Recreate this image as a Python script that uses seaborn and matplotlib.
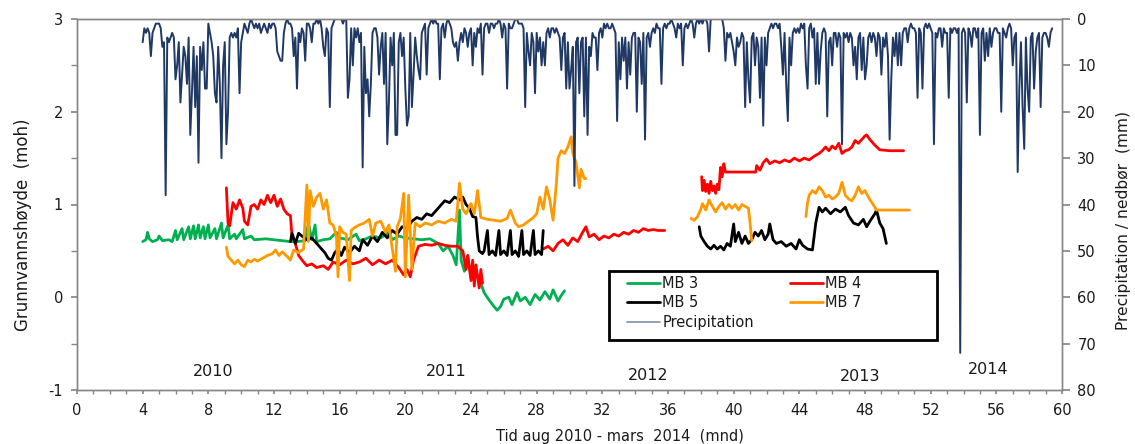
import numpy as np
import pandas as pd
import matplotlib
matplotlib.use("Agg")
import matplotlib.pyplot as plt
from matplotlib.lines import Line2D
from matplotlib.patches import Rectangle
from matplotlib.ticker import MultipleLocator
import seaborn as sns

# ---------------- data (months since aug 2010) ----------------
mb3_month = [4.0, 4.2, 4.3, 4.4, 4.6, 4.9, 5.0, 5.2, 5.6, 5.8, 6.0, 6.1, 6.4, 6.5, 6.8, 6.9,
             7.1, 7.2, 7.4, 7.5, 7.7, 7.8, 8.0, 8.1, 8.4, 8.5, 8.8, 8.9, 9.2, 9.3, 9.6, 9.7,
             10.1, 10.2, 10.6, 10.8, 11.5, 12.0, 12.5, 13.0, 13.4, 13.9, 14.1, 14.3, 14.5,
             14.6, 15.0, 15.4, 15.8, 16.0, 16.5, 17.0, 17.2, 17.6, 18.0, 18.5, 19.0, 19.2,
             19.6, 20.0, 20.5, 21.0, 21.5, 22.0, 22.3, 22.6, 22.9, 23.1, 23.3, 23.4, 23.6,
             23.8, 24.0, 24.2, 24.5, 24.8, 25.1, 25.4, 25.6, 25.8, 26.0, 26.3, 26.5, 26.8,
             27.0, 27.3, 27.6, 27.9, 28.2, 28.5, 28.8, 29.0, 29.3, 29.5, 29.7]
mb3_level = [0.60, 0.62, 0.70, 0.63, 0.60, 0.62, 0.66, 0.61, 0.62, 0.60, 0.72, 0.62, 0.74, 0.62,
             0.76, 0.63, 0.77, 0.63, 0.78, 0.64, 0.76, 0.63, 0.78, 0.64, 0.74, 0.63, 0.80, 0.64,
             0.78, 0.63, 0.68, 0.63, 0.73, 0.63, 0.66, 0.62, 0.63, 0.62, 0.61, 0.60, 0.60, 0.61,
             0.80, 0.62, 0.78, 0.60, 0.62, 0.63, 0.70, 0.64, 0.62, 0.68, 0.61, 0.63, 0.66, 0.64,
             0.70, 0.62, 0.66, 0.64, 0.63, 0.62, 0.63, 0.58, 0.50, 0.55, 0.45, 0.35, 0.94, 0.40,
             0.28, 0.45, 0.22, 0.30, 0.20, 0.05, -0.03, -0.10, -0.14, -0.10, -0.02, 0.00, -0.08,
             0.05, -0.04, 0.00, -0.08, 0.03, -0.03, 0.06, -0.02, 0.08, -0.04, 0.02, 0.07]

mb4_month = [9.1, 9.2, 9.3, 9.5, 9.7, 9.9, 10.1, 10.2, 10.4, 10.6, 10.8, 11.0, 11.2, 11.4, 11.6,
             11.8, 12.0, 12.2, 12.4, 12.6, 12.8, 13.0, 13.1, 13.3, 13.5, 13.8, 14.0, 14.3, 14.6,
             15.0, 15.3, 15.6, 16.0, 16.4, 16.8, 17.2, 17.6, 18.0, 18.4, 18.8, 19.2, 19.6, 19.9,
             20.1, 20.3, 20.5, 20.8, 21.2, 21.6, 22.0, 22.4, 22.8, 23.2, 23.5, 23.7, 23.8, 24.0,
             24.1, 24.2, 24.3, 24.5, 24.6, 24.7,
             28.4, 28.7, 29.0, 29.3, 29.6, 29.9, 30.2, 30.5, 30.8, 31.0, 31.2, 31.5, 31.8, 32.1,
             32.4, 32.7, 33.0, 33.3, 33.6, 33.9, 34.2, 34.5, 34.8, 35.1, 35.4, 35.8,
             38.05, 38.1, 38.2, 38.3, 38.4, 38.5, 38.6, 38.7, 38.8, 38.9, 39.0, 39.1, 39.2, 39.3,
             39.4, 39.5, 40.0, 40.5, 41.0, 41.35, 41.4, 41.6, 41.8, 42.0, 42.2, 42.5, 42.8, 43.1,
             43.4, 43.7, 44.0, 44.3, 44.6, 44.9, 45.2, 45.4, 45.6, 45.8, 46.0, 46.2, 46.4, 46.6,
             46.8, 47.0, 47.2, 47.4, 47.6, 47.8, 48.0, 48.1, 48.3, 48.6, 48.9, 49.5, 50.0, 50.35]
mb4_level = [1.18, 0.80, 0.77, 1.02, 0.95, 1.05, 0.96, 0.82, 0.78, 0.98, 1.00, 0.95, 1.05, 1.00,
             1.10, 1.02, 1.10, 0.98, 1.06, 0.95, 0.90, 0.88, 0.65, 0.58, 0.45, 0.38, 0.34, 0.36,
             0.32, 0.34, 0.30, 0.38, 0.35, 0.40, 0.36, 0.38, 0.42, 0.35, 0.40, 0.36, 0.40, 0.32,
             0.24, 0.30, 0.22, 0.40, 0.55, 0.57, 0.56, 0.58, 0.56, 0.55, 0.55, 0.50, 0.30, 0.45,
             0.18, 0.40, 0.12, 0.35, 0.10, 0.30, 0.15,
             0.52, 0.55, 0.50, 0.58, 0.62, 0.56, 0.64, 0.60, 0.70, 0.76, 0.65, 0.68, 0.62, 0.66,
             0.64, 0.68, 0.66, 0.70, 0.68, 0.72, 0.70, 0.74, 0.72, 0.73, 0.72, 0.72,
             1.30, 1.15, 1.26, 1.14, 1.22, 1.12, 1.25, 1.15, 1.20, 1.12, 1.22, 1.16, 1.40, 1.30,
             1.44, 1.35, 1.35, 1.35, 1.35, 1.35, 1.42, 1.37, 1.45, 1.49, 1.44, 1.47, 1.45, 1.48,
             1.46, 1.50, 1.47, 1.50, 1.48, 1.52, 1.55, 1.58, 1.62, 1.58, 1.63, 1.60, 1.66, 1.55,
             1.58, 1.59, 1.62, 1.69, 1.66, 1.70, 1.74, 1.75, 1.70, 1.64, 1.59, 1.58, 1.58, 1.58]

mb5_month = [13.0, 13.1, 13.3, 13.5, 13.7, 14.0, 14.3, 14.6, 14.9, 15.1, 15.3, 15.5, 15.7, 15.9,
             16.1, 16.3, 16.6, 16.9, 17.2, 17.4, 17.7, 18.0, 18.3, 18.6, 18.9, 19.2, 19.5, 19.8,
             20.1, 20.4, 20.7, 21.0, 21.3, 21.6, 21.9, 22.1, 22.4, 22.7, 23.0, 23.3, 23.5, 23.7,
             23.9, 24.1, 24.3, 24.4, 24.5, 24.7, 24.8, 25.0, 25.1, 25.3, 25.5, 25.7, 25.8, 26.0,
             26.2, 26.4, 26.5, 26.7, 26.9, 27.1, 27.2, 27.4, 27.6, 27.8, 27.9, 28.1, 28.3, 28.4,
             37.9, 38.0, 38.2, 38.4, 38.6, 38.8, 39.0, 39.2, 39.4, 39.6, 39.8, 40.0, 40.1, 40.3,
             40.5, 40.7, 40.9, 41.1, 41.3, 41.5, 41.7, 41.9, 42.1, 42.2, 42.4, 42.6, 42.9, 43.2,
             43.5, 43.8, 44.0, 44.2, 44.5, 44.8, 45.0, 45.2, 45.4, 45.6, 45.9, 46.2, 46.5, 46.8,
             47.0, 47.3, 47.6, 47.9, 48.1, 48.3, 48.6, 48.7, 48.9, 49.1, 49.3]
mb5_level = [0.60, 0.69, 0.58, 0.69, 0.66, 0.62, 0.64, 0.58, 0.52, 0.48, 0.42, 0.40, 0.48, 0.52,
             0.45, 0.54, 0.48, 0.55, 0.50, 0.62, 0.56, 0.66, 0.60, 0.70, 0.64, 0.72, 0.68, 0.76,
             0.74, 0.82, 0.86, 0.84, 0.90, 0.88, 0.94, 0.98, 1.04, 1.02, 1.08, 1.05, 1.08, 1.00,
             0.96, 0.87, 0.86, 0.65, 0.50, 0.47, 0.50, 0.72, 0.46, 0.50, 0.45, 0.72, 0.46, 0.50,
             0.45, 0.72, 0.46, 0.50, 0.44, 0.72, 0.46, 0.50, 0.45, 0.72, 0.46, 0.50, 0.46, 0.72,
             0.76, 0.66, 0.60, 0.55, 0.52, 0.56, 0.52, 0.55, 0.51, 0.58, 0.55, 0.79, 0.60, 0.70,
             0.58, 0.66, 0.58, 0.62, 0.70, 0.66, 0.72, 0.62, 0.68, 0.79, 0.62, 0.58, 0.60, 0.55,
             0.58, 0.52, 0.62, 0.56, 0.52, 0.51, 0.80, 0.97, 0.92, 0.96, 0.90, 0.95, 0.92, 0.97,
             0.88, 0.80, 0.78, 0.84, 0.76, 0.82, 0.90, 0.94, 0.80, 0.74, 0.58]

mb7_month = [9.1, 9.2, 9.4, 9.6, 9.8, 10.0, 10.2, 10.4, 10.6, 10.8, 11.0, 11.3, 11.6, 11.9, 12.1,
             12.3, 12.5, 12.8, 13.0, 13.2, 13.5, 13.8, 14.0, 14.1, 14.2, 14.4, 14.6, 14.8, 15.0,
             15.2, 15.4, 15.6, 15.8, 15.9, 16.0, 16.2, 16.4, 16.6, 16.7, 16.9, 17.2, 17.5, 17.8,
             18.0, 18.2, 18.5, 18.8, 19.0, 19.4, 19.5, 19.7, 19.9, 20.0, 20.2, 20.4, 20.6, 20.9,
             21.2, 21.6, 22.0, 22.4, 22.8, 23.1, 23.3, 23.5, 23.7, 24.0, 24.2, 24.4, 24.6, 25.0,
             25.4, 25.8, 26.2, 26.4, 26.7, 26.9, 27.2, 27.5, 27.8, 28.0, 28.2, 28.4, 28.6, 28.8,
             29.0, 29.2, 29.3, 29.5, 29.7, 29.9, 30.1, 30.2, 30.4, 30.6, 30.7, 30.9, 31.0,
             37.4, 37.6, 37.8, 38.0, 38.1, 38.3, 38.5, 38.7, 38.9, 39.1, 39.3, 39.5, 39.7, 39.9,
             40.1, 40.3, 40.5, 40.7, 40.9, 41.0, 41.1,
             44.4, 44.5, 44.6, 44.8, 45.0, 45.2, 45.4, 45.6, 45.8, 46.0, 46.2, 46.4, 46.6, 46.8,
             47.0, 47.2, 47.4, 47.6, 47.8, 48.0, 48.3, 48.5, 48.7, 49.2, 49.8, 50.3, 50.7]
mb7_level = [0.54, 0.44, 0.40, 0.36, 0.40, 0.35, 0.33, 0.40, 0.38, 0.41, 0.39, 0.42, 0.45, 0.47,
             0.51, 0.45, 0.49, 0.44, 0.40, 0.51, 0.48, 0.52, 1.21, 0.60, 1.15, 0.98, 1.08, 1.12,
             0.95, 1.05, 0.80, 0.78, 0.66, 0.22, 0.76, 0.70, 0.68, 0.18, 0.72, 0.75, 0.78, 0.80,
             0.84, 0.66, 0.80, 0.82, 0.70, 0.78, 0.28, 0.76, 0.85, 1.12, 0.22, 1.10, 0.30, 0.80,
             0.76, 0.80, 0.78, 0.82, 0.80, 0.84, 0.82, 1.23, 0.95, 0.90, 1.01, 0.90, 1.15, 0.86,
             0.84, 0.83, 0.82, 0.85, 0.94, 0.80, 0.76, 0.78, 0.82, 0.86, 0.90, 1.08, 0.95, 1.19,
             1.05, 0.83, 1.23, 1.50, 1.58, 1.55, 1.62, 1.73, 1.55, 1.45, 1.18, 1.38, 1.28, 1.28,
             0.85, 0.83, 0.87, 0.95, 1.01, 0.94, 1.05, 0.98, 0.92, 0.98, 1.02, 0.95, 1.00, 0.96,
             1.00, 0.94, 1.00, 0.98, 0.96, 0.80, 0.61,
             0.87, 1.02, 1.10, 1.15, 1.12, 1.19, 1.15, 1.08, 1.10, 1.06, 1.08, 1.12, 1.24, 1.10,
             1.06, 1.04, 1.10, 1.19, 1.12, 1.15, 1.05, 1.00, 0.94, 0.94, 0.94, 0.94, 0.94]

# precipitation (mm), one value every 0.1 month starting at month 4.0
precip_start = 4.0
precip_step = 0.1
precip_mm = [
    5, 2, 3, 2, 3, 8, 3, 2, 1, 1,         # 4
    1, 2, 6, 5, 38, 4, 5, 4, 3, 4,        # 5
    13, 10, 5, 18, 12, 6, 8, 14, 4, 25,   # 6
    16, 6, 19, 8, 31, 6, 11, 5, 15, 15,   # 7
    1, 3, 5, 8, 16, 18, 6, 14, 30, 10,    # 8
    5, 27, 20, 4, 3, 4, 3, 4, 2, 16,      # 9
    5, 3, 1, 2, 3, 1, 0, 1, 2, 1,         # 10
    2, 1, 3, 2, 1, 2, 3, 1, 2, 1,         # 11
    1, 2, 7, 8, 9, 9, 3, 1, 0, 1,         # 12
    1, 2, 8, 4, 15, 3, 5, 2, 3, 9,        # 13
    1, 1, 2, 5, 1, 1, 0, 1, 0, 2,         # 14
    6, 8, 2, 3, 19, 2, 1, 0, 0, 0,        # 15
    0, 0, 1, 0, 0, 17, 13, 2, 10, 2,      # 16
    4, 2, 5, 3, 32, 6, 16, 13, 21, 14,    # 17
    3, 2, 2, 4, 12, 6, 3, 14, 3, 27,      # 18
    18, 4, 10, 3, 25, 25, 5, 3, 8, 4,     # 19
    15, 23, 21, 3, 19, 12, 4, 8, 11, 13,  # 20
    3, 2, 1, 12, 2, 1, 0, 1, 0, 1,        # 21
    1, 13, 2, 1, 4, 1, 0, 1, 2, 5,        # 22
    6, 5, 9, 5, 3, 5, 2, 3, 6, 3,         # 23
    2, 10, 3, 6, 2, 3, 1, 12, 2, 1,       # 24
    1, 3, 1, 1, 2, 1, 1, 0, 1, 4,         # 25
    1, 2, 15, 1, 2, 2, 1, 0, 0, 1,        # 26
    1, 1, 2, 19, 3, 7, 10, 3, 5, 16,      # 27
    3, 7, 4, 10, 5, 10, 3, 2, 4, 2,       # 28
    2, 3, 2, 3, 4, 11, 4, 3, 15, 5,       # 29
    15, 11, 6, 36, 5, 4, 16, 5, 4, 21,    # 30
    4, 25, 6, 8, 3, 4, 4, 11, 3, 2,       # 31
    4, 1, 2, 1, 2, 2, 1, 2, 3, 22,        # 32
    5, 13, 4, 9, 4, 15, 5, 12, 4, 3,      # 33
    3, 20, 4, 5, 14, 3, 26, 4, 3, 6,      # 34
    3, 2, 3, 1, 2, 2, 14, 2, 1, 2,        # 35
    1, 1, 0, 1, 2, 4, 1, 2, 1, 10,        # 36
    2, 1, 2, 1, 0, 1, 4, 1, 0, 1,         # 37
    0, 1, 0, 0, 1, 7, 0, 0, 0, 0,         # 38
    0, 0, 0, 0, 2, 9, 3, 4, 3, 5,         # 39
    7, 10, 4, 6, 5, 3, 4, 19, 5, 13,      # 40
    18, 4, 3, 10, 4, 6, 17, 4, 23, 4,     # 41
    10, 3, 2, 1, 2, 1, 1, 2, 1, 6,        # 42
    12, 3, 14, 22, 4, 10, 3, 2, 3, 2,     # 43
    3, 1, 2, 1, 10, 15, 2, 1, 4, 2,       # 44
    14, 3, 14, 7, 3, 2, 3, 21, 5, 4,      # 45
    10, 3, 3, 6, 3, 4, 27, 3, 4, 3,       # 46
    5, 3, 4, 10, 6, 13, 4, 3, 11, 4,      # 47
    13, 10, 4, 3, 5, 3, 4, 8, 3, 4,       # 48
    12, 4, 6, 3, 8, 26, 13, 4, 8, 3,      # 49
    10, 3, 10, 3, 2, 2, 5, 2, 1, 2,       # 50
    2, 3, 17, 2, 3, 15, 2, 1, 2, 1,       # 51
    2, 3, 27, 3, 4, 2, 2, 6, 2, 3,        # 52
    3, 17, 2, 3, 2, 2, 3, 2, 72, 3,       # 53
    2, 3, 18, 2, 3, 6, 2, 2, 4, 2,        # 54
    25, 3, 2, 9, 3, 8, 2, 6, 3, 2,        # 55
    2, 3, 3, 20, 2, 3, 4, 2, 1, 2,        # 56
    10, 4, 3, 33, 15, 5, 19, 28, 4, 15,   # 57
    20, 4, 3, 15, 7, 4, 3, 19, 4, 3,      # 58
    3, 4, 6, 3, 2,                        # 59
]

series_names = ["MB 3", "MB 4", "MB 5", "MB 7"]
series_colors = ["#00b050", "#ff0000", "#000000", "#ff9900"]
precip_color = "#1f3864"

year_labels = ["2010", "2011", "2012", "2013", "2014"]
year_pos_month = [8.3, 22.5, 34.8, 47.7, 55.5]
year_pos_level = [-0.80, -0.80, -0.84, -0.85, -0.78]

# ---------------- build frames ----------------
def series_frame(name, months, levels):
    df = pd.DataFrame({"month": months, "level": levels})
    df["segment"] = (df["month"].diff() > 1.0).cumsum()
    df["series"] = name
    return df

frames = [series_frame(n, m, l) for n, m, l in zip(
    series_names,
    [mb3_month, mb4_month, mb5_month, mb7_month],
    [mb3_level, mb4_level, mb5_level, mb7_level])]

precip_df = pd.DataFrame({
    "month": precip_start + precip_step * np.arange(len(precip_mm)),
    "mm": precip_mm,
})

# ---------------- style ----------------
sns.set_theme(style="white")
plt.rcParams["font.family"] = ["DejaVu Sans"]
plt.rcParams["axes.unicode_minus"] = False
text_color = "#1a1a1a"
spine_color = "#868686"

W, H = 1135, 444
ax_l, ax_r, ax_t, ax_b = 77, 1062, 19, 390
fig = plt.figure(figsize=(W / 100, H / 100), dpi=100)
ax = fig.add_axes([ax_l / W, (H - ax_b) / H, (ax_r - ax_l) / W, (ax_b - ax_t) / H])

def ax_x(px):
    return (px - ax_l) / (ax_r - ax_l)

def ax_y(py):
    return (ax_b - py) / (ax_b - ax_t)

for df, color in zip(frames, series_colors):
    sns.lineplot(data=df, x="month", y="level", units="segment", estimator=None,
                 color=color, lw=2.0, ax=ax, legend=False, sort=False)

ax2 = ax.twinx()
sns.lineplot(data=precip_df, x="month", y="mm", estimator=None, color=precip_color,
             lw=1.4, ax=ax2, legend=False)

# axes limits & ticks
ax.set_xlim(0, 60)
ax.set_ylim(-1, 3)
ax2.set_ylim(80, 0)
ax.xaxis.set_major_locator(MultipleLocator(4))
ax.xaxis.set_minor_locator(MultipleLocator(1))
ax.yaxis.set_major_locator(MultipleLocator(1))
ax.yaxis.set_minor_locator(MultipleLocator(0.5))
ax2.yaxis.set_major_locator(MultipleLocator(10))

ax.tick_params(axis="x", which="both", bottom=True, direction="out", length=3,
               color=spine_color, labelsize=10.5, labelcolor=text_color, pad=6)
ax.tick_params(axis="y", which="both", left=True, direction="out", length=4,
               color=spine_color, labelsize=10.5, labelcolor=text_color, pad=6)
ax2.tick_params(axis="y", which="both", right=True, direction="out", length=6,
                color=spine_color, labelsize=10.5, labelcolor=text_color, pad=5)

for a in (ax, ax2):
    for sp in a.spines.values():
        sp.set_color(spine_color)
        sp.set_linewidth(1.0)

ax.set_xlabel("Tid aug 2010 - mars  2014  (mnd)", fontsize=10.5, color=text_color,
              ha="center", va="center")
ax.xaxis.set_label_coords(ax_x(620), ax_y(436))
ax.set_ylabel("Grunnvannshøyde  (moh)", fontsize=12, color=text_color,
              ha="center", va="center")
ax.yaxis.set_label_coords(ax_x(23), ax_y(225))
ax2.set_ylabel("Precipitation / nedbør  (mm)", fontsize=11.2, color=text_color,
               ha="center", va="center")
ax2.yaxis.set_label_coords(ax_x(1123), ax_y(220))

for lab, xm, yl in zip(year_labels, year_pos_month, year_pos_level):
    ax.text(xm, yl, lab, ha="center", va="center", fontsize=11.5, color=text_color)

# legend box and entries
box = Rectangle((ax_x(609), ax_y(340)), ax_x(937) - ax_x(609), ax_y(271) - ax_y(340),
                transform=ax2.transAxes, facecolor="white", edgecolor="black",
                linewidth=2.0, zorder=5)
ax2.add_patch(box)

handles = [Line2D([], [], color=c, lw=2.0) for c in series_colors]
handles.append(Line2D([], [], color="#7f8fa9", lw=1.2))
labels = series_names + ["Precipitation"]
order = [0, 2, 4, 1, 3]
leg = ax2.legend([handles[i] for i in order], [labels[i] for i in order], ncol=2,
                 loc="upper left", bbox_to_anchor=(ax_x(627), ax_y(276)),
                 frameon=False, fontsize=10.5, handlelength=2.26, handletextpad=0.15,
                 labelspacing=0.3, borderpad=0.0, borderaxespad=0.0, columnspacing=2.47)
leg.set_zorder(6)
for t in leg.get_texts():
    t.set_color(text_color)

fig.savefig("out.png", dpi=100)
